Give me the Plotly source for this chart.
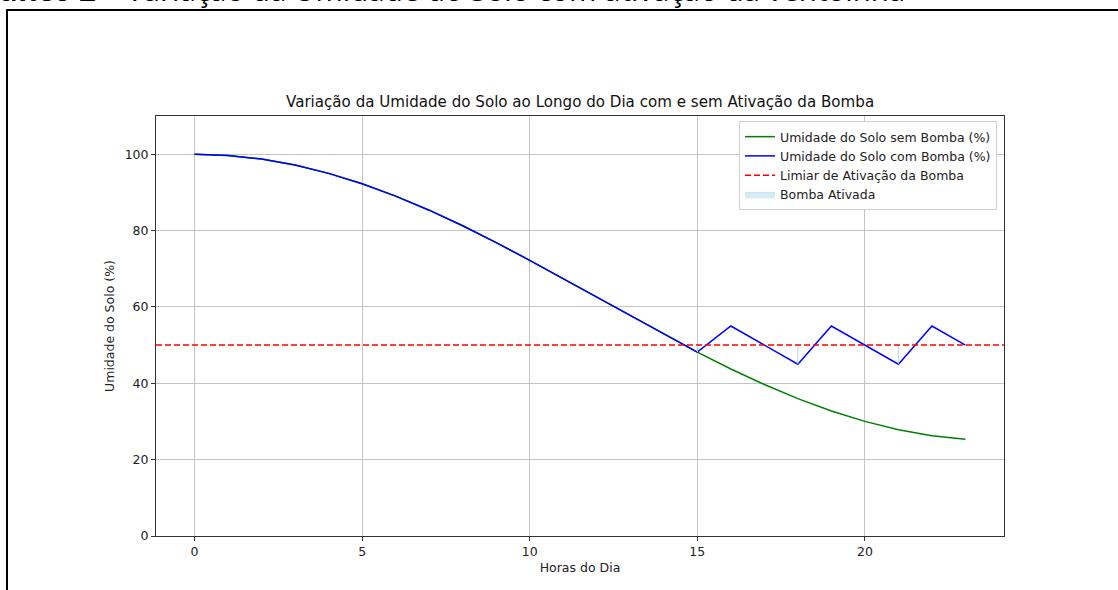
import plotly.graph_objects as go

# ---- data ----
hours = list(range(24))
umidade_sem_bomba = [100.0, 99.68, 98.72, 97.15, 94.98, 92.25, 89.02, 85.33, 81.25, 76.85,
                     72.21, 67.39, 62.5, 57.61, 52.79, 48.15, 43.75, 39.67, 35.98, 32.75,
                     30.02, 27.85, 26.28, 25.32]
umidade_com_bomba = [100.0, 99.68, 98.72, 97.15, 94.98, 92.25, 89.02, 85.33, 81.25, 76.85,
                     72.21, 67.39, 62.5, 57.61, 52.79, 48.15, 55.0, 50.0, 45.0, 55.0,
                     50.0, 45.0, 55.0, 50.0]
limiar = 50
x_ticks = [0, 5, 10, 15, 20]
y_ticks = [0, 20, 40, 60, 80, 100]

titulo = "Variação da Umidade do Solo ao Longo do Dia com e sem Ativação da Bomba"
cabecalho_bold = "Gráfico 2"
cabecalho_rest = " – Variação da Umidade do Solo com ativação da ventoinha"

# ---- layout geometry (pixels) ----
W, H = 1118, 590
L, R, T, B = 156, 1004, 116, 536
pw, ph = R - L, B - T

def px_x(p):
    return (p - L) / pw

def px_y(p):
    return (B - p) / ph

fig = go.Figure()

fig.add_trace(go.Scatter(x=hours, y=umidade_sem_bomba, mode="lines",
                         line=dict(color="#008000", width=1.5),
                         name="Umidade do Solo sem Bomba (%)", legendrank=1))
fig.add_trace(go.Scatter(x=hours, y=umidade_com_bomba, mode="lines",
                         line=dict(color="#0000ff", width=1.5),
                         name="Umidade do Solo com Bomba (%)", legendrank=2))

# fill_between where pump on (humidity below threshold) -> zero-width slivers
fx, fy = [], []
for h, v in zip(hours, umidade_com_bomba):
    if v < limiar:
        fx += [h, h, h, None]
        fy += [v, limiar, v, None]
fig.add_trace(go.Scatter(x=fx, y=fy, mode="lines", fill="toself",
                         fillcolor="rgba(173,216,230,0.5)",
                         line=dict(color="rgba(173,216,230,0.6)", width=1),
                         name="Bomba Ativada", legendrank=4))

# threshold line across whole axis
fig.add_shape(type="line", xref="paper", x0=0, x1=1, yref="y", y0=limiar, y1=limiar,
              line=dict(color="#ff0000", width=1.5, dash="6px,3px"),
              showlegend=True, name="Limiar de Ativação da Bomba", legendrank=3)

# document border (outside the chart)
fig.add_shape(type="path", xref="paper", yref="paper",
              path=f"M {px_x(7)} {px_y(H + 5)} L {px_x(7)} {px_y(10)} L {px_x(W + 5)} {px_y(10)}",
              line=dict(color="black", width=2), layer="above")

span = hours[-1] - hours[0]
xr = [hours[0] - 0.05 * span, hours[-1] + 0.05 * span]

FS = 12.5
axis_common = dict(showline=True, mirror=True, linecolor="#333333", linewidth=1,
                   showgrid=True, gridcolor="#c4c4c4", gridwidth=1,
                   ticks="outside", ticklen=4, tickcolor="#333333",
                   tickfont=dict(family="DejaVu Sans", size=FS, color="#222222"),
                   zeroline=False)

fig.update_xaxes(range=xr, tickvals=x_ticks, **axis_common,
                 title=dict(text="Horas do Dia", font=dict(family="DejaVu Sans", size=FS, color="#222222"),
                            standoff=5))
fig.update_yaxes(range=[0, 110], tickvals=y_ticks, **axis_common,
                 title=dict(text="Umidade do Solo (%)", font=dict(family="DejaVu Sans", size=FS, color="#222222"),
                            standoff=7))

fig.add_annotation(text=titulo, xref="paper", yref="paper", x=0.5, y=px_y(102),
                   xanchor="center", yanchor="middle", showarrow=False,
                   font=dict(family="DejaVu Sans", size=15.1, color="#111111"))

fig.add_annotation(text=f"<b>{cabecalho_bold}</b>{cabecalho_rest}", xref="paper", yref="paper",
                   x=px_x(907), y=px_y(12), xanchor="right", yanchor="bottom", showarrow=False,
                   font=dict(family="Open Sans", size=29.5, color="#000000"))

fig.update_layout(
    width=W, height=H,
    margin=dict(l=L, r=W - R, t=T, b=H - B, pad=0),
    paper_bgcolor="white", plot_bgcolor="white",
    showlegend=True,
    legend=dict(x=px_x(997), y=px_y(121), xanchor="right", yanchor="top",
                bgcolor="white", bordercolor="#d0d0d0", borderwidth=1,
                font=dict(family="DejaVu Sans", size=FS, color="#222222"),
                tracegroupgap=0, itemwidth=30),
    font=dict(family="DejaVu Sans"),
)

fig.write_html("out.html", config={"displayModeBar": False},
               post_script="document.body.style.margin='0';document.body.style.overflow='hidden';")
